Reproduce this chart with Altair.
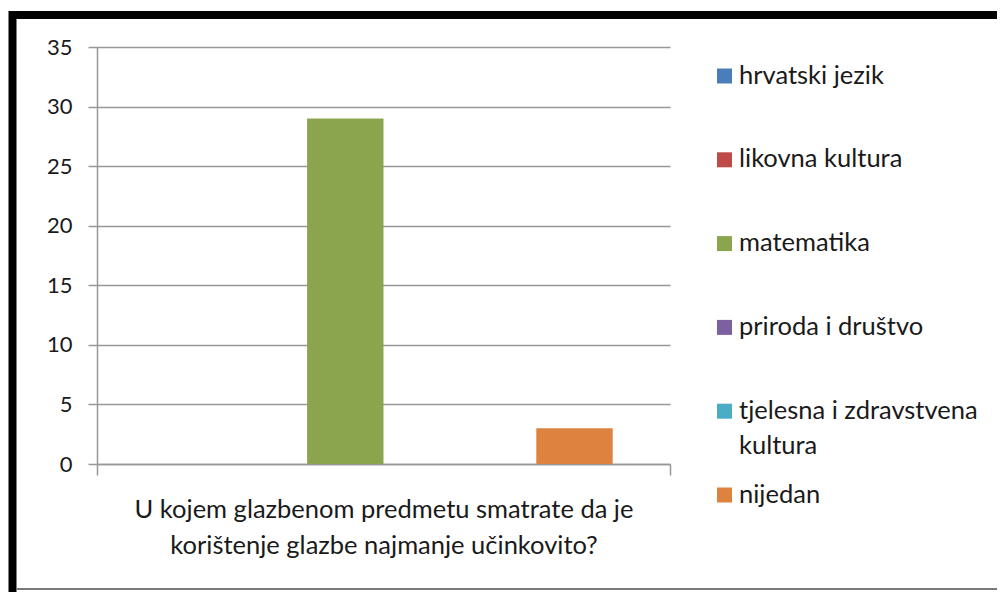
import altair as alt
import pandas as pd

# ---- data ----
series = [
    "hrvatski jezik",
    "likovna kultura",
    "matematika",
    "priroda i društvo",
    "tjelesna i zdravstvena kultura",
    "nijedan",
]
values = [0, 0, 29, 0, 0, 3]
colors = ["#4A7EBB", "#BE4B48", "#8BA54E", "#7D60A0", "#4AACC5", "#DD833F"]
legend_labels = [
    "hrvatski jezik",
    "likovna kultura",
    "matematika",
    "priroda i društvo",
    "tjelesna i zdravstvena\nkultura",
    "nijedan",
]
question_lines = [
    "U kojem glazbenom predmetu smatrate da je",
    "korištenje glazbe najmanje učinkovito?",
]
y_ticks = [0, 5, 10, 15, 20, 25, 30, 35]

# ---- style ----
W, H = 573, 417
FONT = "Lato"
TEXT = "#1a1a1a"
GRID = "#979797"
FS = 25.5

bars_df = pd.DataFrame(
    {"question": "|".join(question_lines), "series": series, "value": values}
)
legend_df = pd.DataFrame({"series": series, "label": legend_labels})

color = alt.Color(
    "series:N", scale=alt.Scale(domain=series, range=colors), legend=None
)

bars = alt.Chart(bars_df).mark_bar().encode(
    x=alt.X(
        "question:N",
        scale=alt.Scale(paddingInner=0, paddingOuter=0),
        axis=alt.Axis(
            title=None,
            labelAngle=0,
            labelExpr="split(datum.label, '|')",
            labelFont=FONT,
            labelFontSize=FS,
            labelColor=TEXT,
            labelLineHeight=36,
            labelLimit=2000,
            labelPadding=22,
            tickBand="extent",
            tickSize=11,
            tickColor=GRID,
            tickWidth=1.5,
            domainColor=GRID,
            domainWidth=1.5,
        ),
    ),
    xOffset=alt.XOffset(
        "series:N",
        sort=series,
        scale=alt.Scale(domain=series, paddingInner=0, paddingOuter=0.75),
    ),
    y=alt.Y(
        "value:Q",
        scale=alt.Scale(domain=[0, 35], nice=False),
        axis=alt.Axis(
            values=y_ticks,
            title=None,
            grid=True,
            gridColor=GRID,
            gridWidth=1.5,
            domainColor=GRID,
            domainWidth=1.5,
            tickColor=GRID,
            tickWidth=1.5,
            tickSize=9,
            labelPadding=16,
            labelFont=FONT,
            labelFontSize=22,
            labelColor=TEXT,
        ),
    ),
    color=color,
)

leg_y = alt.Y(
    "series:N",
    sort=series,
    scale=alt.Scale(type="point", domain=series, range=[29, 448], padding=0),
    axis=None,
)
leg_sq = alt.Chart(legend_df).mark_square(size=225, filled=True, opacity=1).encode(
    x=alt.value(627.5), y=leg_y, color=color
)
leg_tx = alt.Chart(legend_df).mark_text(
    align="left",
    baseline="top",
    dy=-12.5,
    lineBreak="\n",
    font=FONT,
    fontSize=FS,
    lineHeight=35,
    color=TEXT,
).encode(x=alt.value(642), y=leg_y, text="label:N")

one = alt.Data(values=[{}])
frame_top = alt.Chart(one).mark_rule(color="black", strokeWidth=8).encode(
    x=alt.value(-88), x2=alt.value(900), y=alt.value(-32)
)
frame_left = alt.Chart(one).mark_rule(color="black", strokeWidth=8).encode(
    x=alt.value(-84.5), y=alt.value(-36), y2=alt.value(545)
)
frame_bottom = alt.Chart(one).mark_rule(color="#7a7a7a", strokeWidth=2).encode(
    x=alt.value(-80), x2=alt.value(900), y=alt.value(542)
)

chart = (
    alt.layer(frame_top, frame_left, frame_bottom, bars, leg_sq, leg_tx)
    .resolve_scale(y="independent")
    .properties(
        width=W,
        height=H,
        autosize=alt.AutoSizeParams(type="none"),
        padding={"left": 89, "top": 39, "right": 327, "bottom": 128},
    )
    .configure_view(strokeWidth=0)
)

chart.save("out.html", embed_options={"renderer": "svg", "actions": False})
